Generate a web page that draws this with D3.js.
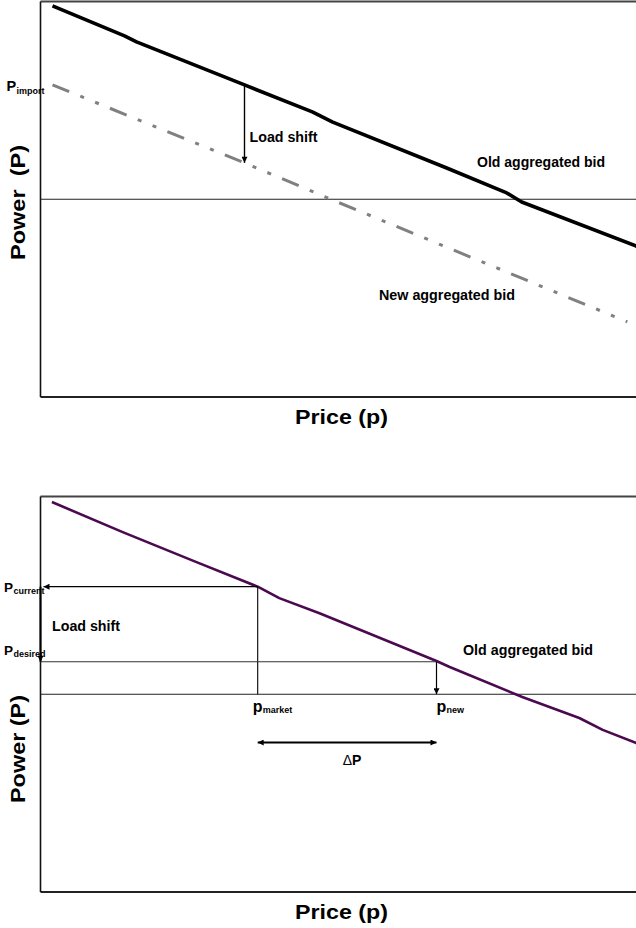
<!DOCTYPE html>
<html><head><meta charset="utf-8">
<script src="https://cdn.jsdelivr.net/npm/d3@7"></script>
<style>
body{margin:0;background:#fff}
svg{display:block}
text{font-family:"Liberation Sans",Arial,Helvetica,sans-serif;fill:#000}
</style>
</head><body><div id="chart"></div>
<script>
// ---- data (price / power in relative units) ----
const priceDomain = [0, 100];
const powerDomain = [0, 100];
const marketPower = 50;

// Top panel
const oldBidPrice = [2, 14, 16, 34, 45.3, 48.7, 67.7, 77.7, 80.2, 99.2, 104];
const oldBidPower = [98.9, 91.3, 89.8, 78.9, 72.1, 69.5, 57.9, 51.6, 49.3, 38.2, 35.9];
const newBidPrice = [2, 34, 48.7, 77.7, 97.8];
const newBidPower = [78.9, 59.2, 49.8, 31.6, 19.0];
const pImport = 78.9;
const loadShiftPrice = 34;

// Bottom panel
const bidPrice = [1.9, 13.7, 26.0, 36.2, 39.8, 46.5, 66.0, 68.2, 80.3, 89.8, 93.7, 99.2, 104];
const bidPower = [98.6, 91.0, 83.4, 77.2, 74.3, 70.5, 58.4, 56.9, 49.3, 44.0, 41.0, 37.7, 35.6];
const pCurrent = 77.2, pDesired = 58.2;
const pMarket = 36.2, pNew = 66.0;
const deltaLevel = 37.8;

const labels = {
  xTitle: "Price (p)",
  yTitleTop: "Power\u00a0\u00a0(P)",
  yTitleBottom: "Power (P)",
  oldBid: "Old aggregated bid",
  newBid: "New aggregated bid",
  loadShift: "Load shift"
};

// ---- drawing ----
const W = 636, H = 928;
const svg = d3.select("#chart").append("svg").attr("width", W).attr("height", H);

const defs = svg.append("defs");
defs.append("marker").attr("id", "arr")
  .attr("viewBox", "0 0 10 10").attr("refX", 10).attr("refY", 5)
  .attr("markerWidth", 7).attr("markerHeight", 6)
  .attr("markerUnits", "userSpaceOnUse").attr("orient", "auto-start-reverse")
  .append("path").attr("d", "M0,0 L10,5 L0,10 z").attr("fill", "#000");

const x = d3.scaleLinear().domain(priceDomain).range([40.5, 640.5]);

function panel(top, bottom) {
  const y = d3.scaleLinear().domain(powerDomain).range([bottom, top]);
  const g = svg.append("g");
  g.append("line").attr("x1", x(0)).attr("x2", 700).attr("y1", y(100)).attr("y2", y(100))
    .attr("stroke", "#444").attr("stroke-width", 1.8);
  g.append("line").attr("x1", x(0)).attr("x2", 700).attr("y1", y(0)).attr("y2", y(0))
    .attr("stroke", "#222").attr("stroke-width", 1.8);
  g.append("line").attr("x1", x(0)).attr("x2", x(0)).attr("y1", y(100)).attr("y2", y(0))
    .attr("stroke", "#111").attr("stroke-width", 1.6);
  g.append("line").attr("x1", x(0)).attr("x2", 700).attr("y1", y(marketPower)).attr("y2", y(marketPower))
    .attr("stroke", "#222").attr("stroke-width", 1.1);
  return {g, y};
}

function axisTitles(yText, yLen, cy, xBase) {
  svg.append("text").attr("x", 341.5).attr("y", xBase)
    .attr("text-anchor", "middle").attr("font-size", 21).attr("font-weight", "bold")
    .attr("textLength", 93).attr("lengthAdjust", "spacingAndGlyphs").text(labels.xTitle);
  svg.append("text").attr("transform", `translate(25,${cy}) rotate(-90)`)
    .attr("text-anchor", "middle").attr("font-size", 21).attr("font-weight", "bold")
    .attr("textLength", yLen).attr("lengthAdjust", "spacingAndGlyphs").text(yText);
}

function subLabel(parent, xx, yy, main, sub, mainSize, subSize, subX, subDy) {
  const t = parent.append("text").attr("x", xx).attr("y", yy).attr("font-weight", "bold");
  t.append("tspan").attr("font-size", mainSize).text(main);
  t.append("tspan").attr("font-size", subSize).attr("x", subX).attr("dy", subDy).text(sub);
}

// ===== Top panel =====
{
  const {g, y} = panel(1.5, 397);
  const ln = d3.line().x(d => x(d[0])).y(d => y(d[1]));
  g.append("path").datum(newBidPrice.map((p, i) => [p, newBidPower[i]]))
    .attr("d", ln).attr("fill", "none").attr("stroke", "#808080").attr("stroke-width", 3)
    .attr("stroke-dasharray", "18,12,4,12,4,12");
  g.append("path").datum(oldBidPrice.map((p, i) => [p, oldBidPower[i]]))
    .attr("d", ln).attr("fill", "none").attr("stroke", "#000").attr("stroke-width", 3.6)
    .attr("stroke-linejoin", "round");
  g.append("line").attr("x1", x(loadShiftPrice)).attr("x2", x(loadShiftPrice))
    .attr("y1", y(pImport)).attr("y2", y(newBidPower[1]))
    .attr("stroke", "#000").attr("stroke-width", 1.4).attr("marker-end", "url(#arr)");
  g.append("text").attr("x", x(loadShiftPrice) + 5).attr("y", 141.7)
    .attr("font-size", 14).attr("font-weight", "bold")
    .attr("textLength", 68).attr("lengthAdjust", "spacingAndGlyphs").text(labels.loadShift);
  g.append("text").attr("x", 477).attr("y", 166.5)
    .attr("font-size", 14).attr("font-weight", "bold")
    .attr("textLength", 128).attr("lengthAdjust", "spacingAndGlyphs").text(labels.oldBid);
  g.append("text").attr("x", 379).attr("y", 300)
    .attr("font-size", 14).attr("font-weight", "bold")
    .attr("textLength", 136).attr("lengthAdjust", "spacingAndGlyphs").text(labels.newBid);
  subLabel(g, 6.5, y(pImport) + 6.5, "P", "import", 14.5, 9, 16.5, 2.5);
  axisTitles(labels.yTitleTop, 115, 202.5, 423.5);
}

// ===== Bottom panel =====
{
  const {g, y} = panel(496.5, 892);
  const ln = d3.line().x(d => x(d[0])).y(d => y(d[1]));
  g.append("path").datum(bidPrice.map((p, i) => [p, bidPower[i]]))
    .attr("d", ln).attr("fill", "none").attr("stroke", "#4b0a4f").attr("stroke-width", 2.6)
    .attr("stroke-linejoin", "round");
  g.append("line").attr("x1", x(pMarket)).attr("x2", x(0) + 3)
    .attr("y1", y(pCurrent)).attr("y2", y(pCurrent))
    .attr("stroke", "#000").attr("stroke-width", 1.2).attr("marker-end", "url(#arr)");
  g.append("line").attr("x1", x(pMarket)).attr("x2", x(pMarket))
    .attr("y1", y(pCurrent)).attr("y2", y(marketPower))
    .attr("stroke", "#000").attr("stroke-width", 1.1);
  g.append("line").attr("x1", x(0)).attr("x2", x(0))
    .attr("y1", y(pCurrent)).attr("y2", y(pDesired))
    .attr("stroke", "#000").attr("stroke-width", 2).attr("marker-end", "url(#arr)");
  g.append("line").attr("x1", x(0)).attr("x2", x(pNew))
    .attr("y1", y(pDesired)).attr("y2", y(pDesired))
    .attr("stroke", "#333").attr("stroke-width", 1.1);
  g.append("line").attr("x1", x(pNew)).attr("x2", x(pNew))
    .attr("y1", y(pDesired)).attr("y2", y(marketPower))
    .attr("stroke", "#000").attr("stroke-width", 1.2).attr("marker-end", "url(#arr)");
  g.append("line").attr("x1", x(pMarket)).attr("x2", x(pNew))
    .attr("y1", y(deltaLevel)).attr("y2", y(deltaLevel))
    .attr("stroke", "#000").attr("stroke-width", 2)
    .attr("marker-start", "url(#arr)").attr("marker-end", "url(#arr)");
  const dt = g.append("text").attr("x", (x(pMarket) + x(pNew)) / 2 + 5).attr("y", 765)
    .attr("text-anchor", "middle").attr("font-size", 14);
  dt.append("tspan").text("\u0394");
  dt.append("tspan").attr("font-weight", "bold").text("P");

  g.append("text").attr("x", 52).attr("y", 631)
    .attr("font-size", 14).attr("font-weight", "bold")
    .attr("textLength", 68).attr("lengthAdjust", "spacingAndGlyphs").text(labels.loadShift);
  g.append("text").attr("x", 463).attr("y", 655)
    .attr("font-size", 14).attr("font-weight", "bold")
    .attr("textLength", 130).attr("lengthAdjust", "spacingAndGlyphs").text(labels.oldBid);

  subLabel(g, 4, y(pCurrent) + 5, "P", "current", 13.5, 9, 13.5, 2);
  subLabel(g, 4, y(pDesired) - 6.5, "P", "desired", 13.5, 9, 13.5, 1.5);
  subLabel(g, x(pMarket) - 5, 711.5, "p", "market", 16, 9, x(pMarket) + 5, 1);
  subLabel(g, x(pNew), 711.5, "p", "new", 16, 9, x(pNew) + 10, 1);

  axisTitles(labels.yTitleBottom, 108, 749, 918.5);
}
</script>
</body></html>
